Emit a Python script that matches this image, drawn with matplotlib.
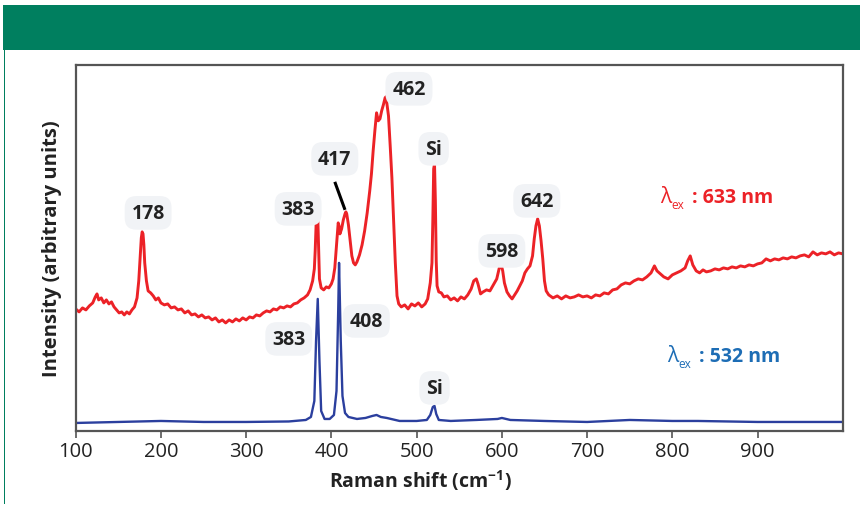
import matplotlib
matplotlib.use("Agg")
import matplotlib.pyplot as plt
from matplotlib.patches import Rectangle
from matplotlib.transforms import offset_copy

# Raman spectra, intensity in arbitrary units
red_x = [100, 104, 108, 112, 116, 120, 123, 125, 127, 130, 133, 136, 139, 142, 145, 148, 151, 154, 157, 160,
         163, 166, 169, 172, 174, 176, 177, 178, 179, 180, 181, 183, 185, 188, 191, 194, 197, 200, 204, 208,
         212, 216, 220, 224, 228, 232, 236, 240, 244, 248, 252, 256, 260, 264, 268, 272, 276, 280, 284, 288,
         292, 296, 300, 304, 308, 312, 316, 320, 324, 328, 332, 336, 340, 344, 348, 352, 356, 360, 364, 368,
         372, 375, 378, 380, 381, 382, 383, 384, 385, 386, 388, 391, 394, 397, 400, 402, 404, 406, 408, 409,
         410, 412, 414, 416, 417, 418, 420, 422, 424, 426, 428, 430, 433, 436, 439, 442, 445, 447, 449, 451,
         453, 455, 457, 459, 461, 463, 464, 465, 467, 469, 471, 473, 475, 477, 479, 482, 486, 490, 494, 498,
         502, 506, 510, 513, 516, 518, 519, 520, 521, 522, 523, 524, 526, 529, 532, 536, 540, 544, 548, 552,
         556, 560, 564, 567, 570, 572, 575, 578, 582, 586, 590, 594, 597, 599, 601, 603, 606, 609, 612, 615,
         618, 621, 624, 627, 630, 633, 636, 638, 640, 642, 644, 646, 648, 650, 652, 655, 660, 665, 670, 675,
         680, 685, 690, 695, 700, 705, 710, 715, 720, 725, 730, 735, 740, 745, 750, 755, 760, 765, 770, 775,
         779, 782, 786, 790, 795, 800, 805, 810, 815, 818, 821, 824, 828, 832, 836, 840, 845, 850, 855, 860,
         865, 870, 875, 880, 885, 890, 895, 900, 905, 910, 915, 920, 925, 930, 935, 940, 945, 950, 955, 960,
         965, 970, 975, 980, 985, 990, 995, 1000]
red_y = [122, 119, 123, 121, 125, 128, 134, 137, 131, 133, 128, 131, 127, 129, 124, 121, 118, 119, 116, 119,
         117, 121, 124, 133, 150, 178, 193, 199, 197, 186, 168, 150, 140, 138, 135, 131, 133, 128, 126, 127,
         123, 124, 121, 122, 118, 120, 116, 117, 114, 116, 113, 114, 111, 113, 109, 111, 108, 111, 109, 112,
         110, 113, 111, 114, 113, 116, 115, 118, 120, 119, 122, 121, 124, 123, 125, 124, 127, 128, 131, 133,
         136, 141, 150, 162, 180, 205, 229, 215, 185, 152, 143, 141, 144, 143, 147, 152, 163, 185, 208, 205,
         197, 202, 211, 217, 219, 217, 206, 190, 175, 168, 166, 169, 176, 186, 200, 218, 240, 257, 280, 300,
         318, 310, 312, 320, 326, 333, 334, 328, 315, 285, 253, 210, 168, 135, 127, 124, 126, 122, 127, 125,
         128, 124, 127, 132, 148, 168, 210, 262, 267, 230, 170, 145, 139, 138, 134, 135, 131, 133, 130, 134,
         132, 136, 142, 150, 152, 147, 137, 139, 141, 140, 146, 152, 163, 167, 160, 148, 139, 135, 132, 136,
         140, 145, 150, 158, 162, 165, 175, 192, 205, 212, 205, 190, 172, 150, 140, 136, 133, 135, 132, 135,
         133, 134, 136, 134, 135, 133, 136, 135, 138, 137, 141, 142, 146, 148, 147, 150, 152, 151, 154, 158,
         165, 160, 157, 154, 152, 156, 158, 160, 163, 170, 175, 166, 160, 158, 161, 159, 160, 162, 161, 163,
         162, 164, 163, 165, 164, 166, 165, 167, 168, 172, 170, 172, 171, 173, 172, 174, 173, 175, 176, 174,
         179, 176, 178, 177, 179, 176, 178, 177]

blue_x = [100, 150, 200, 250, 300, 350, 370, 376, 380, 382, 384, 386, 388, 392, 398, 403, 406, 408, 409, 411,
          413, 416, 420, 430, 440, 448, 453, 458, 465, 470, 480, 500, 512, 516, 519, 521, 523, 526, 540, 570,
          595, 600, 610, 650, 700, 750, 800, 830, 900, 1000]
blue_y = [8, 9, 10, 9, 9, 9.5, 11, 14, 30, 90, 132, 70, 20, 12, 12, 16, 40, 120, 168, 90,
          35, 18, 14, 12, 13, 15, 16, 14, 13, 12, 10, 10, 11, 16, 24, 25, 17, 11, 10, 11,
          12, 13, 11, 10, 9, 11, 10, 10, 9, 9]

# peak labels: (text, x, y)
red_labels = [("178", 185, 218), ("383", 361, 222), ("417", 404, 272), ("462", 491, 342),
              ("Si", 520, 282), ("598", 600, 180), ("642", 641, 230)]
blue_labels = [("383", 350, 92), ("408", 441, 110), ("Si", 521, 43)]

red = "#ec2227"
blue = "#2b3f9e"
blue_text = "#1d6db5"
green = "#007f5f"

plt.rcParams["font.family"] = ["Open Sans", "DejaVu Sans"]

fig = plt.figure(figsize=(8.6, 5.1), dpi=100)
fig.patches.append(Rectangle((3 / 860, 1 - 51 / 510), 1, 45 / 510, transform=fig.transFigure,
                             facecolor=green, edgecolor="none"))
fig.patches.append(Rectangle((4 / 860, 0.01), 1.2 / 860, 1 - 51 / 510 - 0.01, transform=fig.transFigure,
                             facecolor=green, edgecolor="none"))

ax = fig.add_axes([0.088, 0.153, 0.892, 0.718])
ax.plot(red_x, red_y, color=red, lw=2.1)
ax.plot(blue_x, blue_y, color=blue, lw=1.7)

ax.set_xlim(100, 1000)
ax.set_ylim(0, 366)
ax.set_xticks(range(100, 1000, 100))
ax.set_yticks([])
ax.tick_params(axis="x", direction="out", length=5, width=1.2, color="#555555",
               labelsize=14.5, labelcolor="#222222", pad=2)
for s in ax.spines.values():
    s.set_color("#555555")
    s.set_linewidth(1.6)

ax.set_xlabel("Raman shift (cm$^{\\mathregular{-1}}$)", fontsize=14, fontweight="bold",
              color="#222222", labelpad=3)
ax.xaxis.set_label_coords(0.449, -0.1)
ax.set_ylabel("Intensity (arbitrary units)", fontsize=14.5, fontweight="bold",
              color="#222222", labelpad=10)

box = dict(boxstyle="round,pad=0.35,rounding_size=0.6", facecolor="#f1f3f6", edgecolor="none")
for t, x, y in red_labels + blue_labels:
    ax.text(x, y, t, ha="center", va="center", fontsize=14, fontweight="bold",
            color="#222222", bbox=box)

# leader line for the 417 peak
ax.plot([404, 416], [249, 221], color="black", lw=2.2, solid_capstyle="butt")

# excitation wavelength tags
for x0, y0, col, txt in [(786, 234, red, ": 633 nm"), (794, 75, blue_text, ": 532 nm")]:
    ax.text(x0, y0, "λ", ha="left", va="center", fontsize=15, color=col)
    ax.text(x0, y0, "ex", ha="left", va="top",
            transform=offset_copy(ax.transData, fig=fig, x=8, y=-1, units="points"),
            fontsize=8.5, color=col)
    ax.text(x0, y0, txt, ha="left", va="center",
            transform=offset_copy(ax.transData, fig=fig, x=23, y=0, units="points"),
            fontsize=14, fontweight="bold", color=col)

fig.savefig("out.png", dpi=100)
